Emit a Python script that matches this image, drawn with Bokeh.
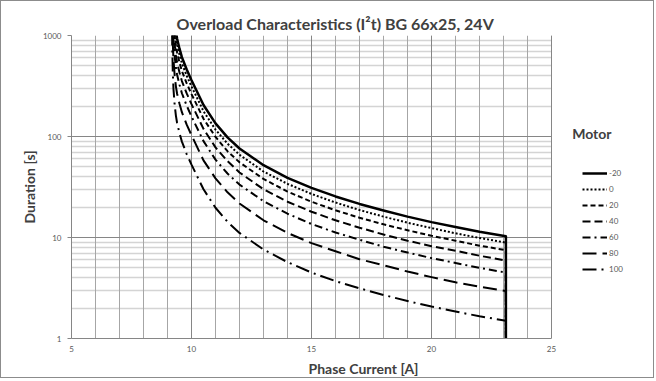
from bokeh.plotting import figure
from bokeh.models import (FixedTicker, Grid, Legend, LegendItem, Label,
                          PrintfTickFormatter, Range1d)
from bokeh.embed import file_html
from bokeh.resources import INLINE

# ---------------- data ----------------
current = [9.19, 9.2, 9.22, 9.25, 9.3, 9.35, 9.4, 9.5, 9.6, 9.8, 10, 10.5, 11, 11.5,
           12, 13, 14, 15, 16, 17, 18, 19, 20, 21, 22, 23.1, 23.1]
t_m20 = [7500, 5000, 3000, 2000, 1400, 1100, 930, 740, 610, 460, 360, 205, 135, 98,
         76, 52, 39, 31, 25.5, 21.5, 18.5, 16.1, 14.2, 12.7, 11.4, 10.3, 0.5]
t_0 = [6500, 4350, 2600, 1740, 1220, 960, 810, 645, 530, 400, 313, 178, 117, 85,
       66, 45, 34, 27, 22.2, 18.7, 16.1, 14.0, 12.4, 11.0, 9.9, 8.9, 0.5]
t_20 = [5500, 3650, 2200, 1460, 1020, 800, 680, 540, 445, 336, 263, 150, 99, 71.5,
        55.5, 38, 28.5, 22.6, 18.6, 15.7, 13.5, 11.8, 10.4, 9.3, 8.3, 7.5, 0.5]
t_40 = [4350, 2900, 1740, 1160, 812, 638, 540, 430, 354, 267, 209, 119, 78, 57,
        44, 30, 22.6, 18, 14.8, 12.5, 10.7, 9.3, 8.2, 7.4, 6.6, 5.9, 0.5]
t_60 = [3300, 2200, 1320, 880, 616, 484, 409, 326, 268, 202, 158, 90, 59, 43,
        33.4, 22.9, 17.2, 13.6, 11.2, 9.5, 8.1, 7.1, 6.25, 5.6, 5.0, 4.5, 0.5]
t_80 = [2140, 1425, 855, 570, 400, 314, 265, 211, 174, 131, 103, 58, 38.5, 28,
        21.7, 14.8, 11.1, 8.8, 7.3, 6.1, 5.3, 4.6, 4.05, 3.6, 3.25, 2.95, 0.5]
t_100 = [1095, 730, 438, 292, 204, 161, 136, 108, 89, 67, 52.6, 30, 19.7, 14.3,
         11.1, 7.6, 5.7, 4.5, 3.7, 3.14, 2.7, 2.35, 2.07, 1.85, 1.66, 1.5, 0.5]

motor_labels = ["-20", "0", "20", "40", "60", "80", "100"]
series = [t_m20, t_0, t_20, t_40, t_60, t_80, t_100]
x_tick_values = [5, 10, 15, 20, 25]
y_tick_values = [1, 10, 100, 1000]
x_min, x_max = 5, 25

title_text = "Overload Characteristics (I\u00b2t) BG 66x25, 24V"
x_title = "Phase Current [A]"
y_title = "Duration [s]"
legend_title = "Motor"

# ---------------- styling ----------------
FONT = "Lato"
TXT = "#404040"
TICK = "#595959"
MAJ = "#868686"
dashes = ["solid", "2 2", "5 3", "8 4", "8 4 2 4", "14 6", "14 5 2 5"]
widths = [2.5, 2, 2, 2, 2, 2, 2]

W, H = 654, 378
FL, FT, FW, FH = 70, 34, 480, 303   # plot area (5..25 A, 1..1000 s) in canvas px
PX_PER_A = FW / (x_max - x_min)
# the frame runs to the right edge so the legend area is drawable;
# the plot area itself is bounded by the axes and grid lines
x_view_end = x_min + (W - FL) / PX_PER_A

def cx_to_x(cx):
    return x_min + (cx - FL) / PX_PER_A

def cy_to_y(cy):
    return 10 ** (3 - (cy - FT) * 3.0 / FH)

p = figure(width=W, height=H, y_axis_type="log",
           x_range=Range1d(x_min, x_view_end), y_range=Range1d(1, 1000),
           output_backend="svg", toolbar_location=None,
           min_border_left=FL, min_border_top=FT,
           min_border_right=0, min_border_bottom=H - FT - FH)
p.background_fill_color = "white"
p.border_fill_color = "white"
p.outline_line_color = None
p.styles = {"border": "1px solid #8c8c8c"}

# title
p.title.text = title_text
p.title.align = "left"
p.title.offset = 105
p.title.vertical_align = "middle"
p.title.standoff = 4
p.title.text_font = FONT
p.title.text_font_style = "bold"
p.title.text_font_size = "16px"
p.title.text_color = TXT

# grids
minor_x = list(range(x_min, x_max + 1))
minor_y = [m * d for d in (1, 10, 100) for m in range(2, 10)]
has_cross = "cross_bounds" in Grid.properties()

p.xgrid.visible = False
p.ygrid.visible = False

def add_grid(dim, ticks, color, width, cross):
    if has_cross:
        p.add_layout(Grid(dimension=dim, ticker=FixedTicker(ticks=ticks),
                          cross_bounds=cross, grid_line_color=color,
                          grid_line_width=width))
    else:
        if dim == 0:
            p.segment(x0=ticks, x1=ticks, y0=[cross[0]] * len(ticks),
                      y1=[cross[1]] * len(ticks), line_color=color,
                      line_width=width, level="underlay")
        else:
            p.segment(x0=[cross[0]] * len(ticks), x1=[cross[1]] * len(ticks),
                      y0=ticks, y1=ticks, line_color=color, line_width=width,
                      level="underlay")

add_grid(1, minor_y, "#d4d4d4", 1.5, (x_min, x_max))
add_grid(0, minor_x, "#a6a6a6", 1, (1, 1000))
add_grid(0, x_tick_values, MAJ, 1, (1, 1000))
add_grid(1, y_tick_values, MAJ, 1, (x_min, x_max))

# axes
for ax in (p.xaxis[0], p.yaxis[0]):
    ax.axis_line_color = MAJ
    ax.major_tick_line_color = MAJ
    ax.minor_tick_line_color = None
    ax.major_label_text_font = FONT
    ax.major_label_text_font_size = "8px"
    ax.major_label_text_color = TICK
    ax.axis_label_text_font = FONT
    ax.axis_label_text_font_style = "bold"
    ax.axis_label_text_font_size = "14px"
    ax.axis_label_text_color = TXT

p.xaxis.bounds = (x_min, x_max)
p.xaxis.ticker = FixedTicker(ticks=x_tick_values)
p.xaxis.major_tick_out = 0
p.xaxis.major_tick_in = 0
p.xaxis.major_label_standoff = 7
p.xaxis.axis_label = x_title
p.xaxis.axis_label_standoff = 5

p.yaxis.ticker = FixedTicker(ticks=y_tick_values)
p.yaxis.formatter = PrintfTickFormatter(format="%d")
p.yaxis.major_tick_out = 4
p.yaxis.major_tick_in = 0
p.yaxis.major_label_standoff = 6
p.yaxis.axis_label = y_title
p.yaxis.axis_label_standoff = 2

# curves (draw -20 last so it is on top)
renderers = {}
for lab, ys, dsh, lw in reversed(list(zip(motor_labels, series, dashes, widths))):
    renderers[lab] = p.line(current, ys, line_color="black", line_width=lw,
                            line_dash=dsh, line_join="round")

# legend, placed right of the plot area
items = [LegendItem(label=lab, renderers=[renderers[lab]]) for lab in motor_labels]
legend = Legend(items=items, location=(511, 62), padding=0, margin=0,
                spacing=2, glyph_width=25, glyph_height=14, label_height=14,
                label_standoff=2, label_text_font=FONT, label_text_font_size="8px",
                label_text_color=TICK, border_line_color=None,
                background_fill_alpha=0)
p.add_layout(legend)

p.add_layout(Label(x=cx_to_x(570.7), y=cy_to_y(132), text=legend_title,
                   text_font=FONT, text_font_style="bold",
                   text_font_size="14px", text_color=TXT,
                   text_align="left", text_baseline="middle"))

open("out.html", "w").write(file_html(p, INLINE))
